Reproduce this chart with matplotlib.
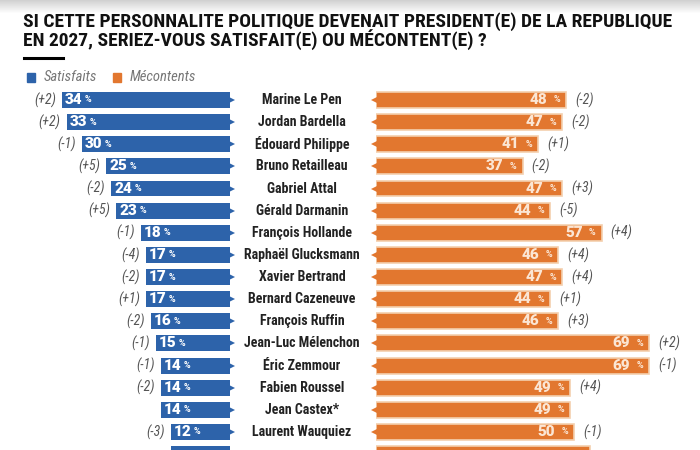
import numpy as np
import matplotlib.pyplot as plt
from matplotlib.lines import Line2D
from matplotlib.patches import Rectangle

# Données du sondage
noms = ["Marine Le Pen", "Jordan Bardella", "Édouard Philippe", "Bruno Retailleau",
        "Gabriel Attal", "Gérald Darmanin", "François Hollande", "Raphaël Glucksmann",
        "Xavier Bertrand", "Bernard Cazeneuve", "François Ruffin", "Jean-Luc Mélenchon",
        "Éric Zemmour", "Fabien Roussel", "Jean Castex*", "Laurent Wauquiez", ""]
satisfaits = [34, 33, 30, 25, 24, 23, 18, 17, 17, 17, 16, 15, 14, 14, 14, 12, 12]
evol_sat = ["(+2)", "(+2)", "(-1)", "(+5)", "(-2)", "(+5)", "(-1)", "(-4)",
            "(-2)", "(+1)", "(-2)", "(-1)", "(-1)", "(-2)", "", "(-3)", ""]
mecontents = [48, 47, 41, 37, 47, 44, 57, 46, 47, 44, 46, 69, 69, 49, 49, 50, 54]
evol_mec = ["(-2)", "(-2)", "(+1)", "(-2)", "(+3)", "(-5)", "(+4)", "(+4)",
            "(+4)", "(+1)", "(+3)", "(+2)", "(-1)", "(+4)", "", "(-1)", ""]

titre1 = "SI CETTE PERSONNALITE POLITIQUE DEVENAIT PRESIDENT(E) DE LA REPUBLIQUE"
titre2 = "EN 2027, SERIEZ-VOUS SATISFAIT(E) OU MÉCONTENT(E) ?"

# Style
bleu = "#2d63aa"
orange = "#e2772f"
gris = "#555555"
condensee = ["Roboto Condensed", "Barlow Condensed", "Archivo Narrow",
             "Asap Condensed", "Liberation Sans Narrow", "DejaVu Sans"]
chiffres = ["Roboto", "DejaVu Sans"]
plt.rcParams["font.family"] = condensee

W, H = 700, 450
y0, pas = 100, 22.13  # centre de la première ligne et pas vertical (pixels)
fig = plt.figure(figsize=(W / 100, H / 100), dpi=100)

# Bandeau gris en haut
fond = fig.add_axes([0, 0, 1, 1])
fond.axis("off")
grad = np.clip(0.82 + np.arange(H) / 13 * 0.18, 0, 1).reshape(-1, 1)
fond.imshow(grad, cmap="gray", vmin=0, vmax=1, aspect="auto", extent=(0, 1, 0, 1))
fond.set_xlim(0, 1)
fond.set_ylim(0, 1)

y = np.arange(len(noms))
ylim = ((H - y0) / pas, -y0 / pas)

# Satisfaits (à gauche)
ax_l = fig.add_axes([0, 0, 230 / W, 1])
ax_l.set_xlim(230 / 4.95, 0)
ax_l.set_ylim(*ylim)
ax_l.axis("off")
ax_l.barh(y, satisfaits, height=0.72, color=bleu)
ax_l.plot(np.zeros(len(y)), y, ">", color=bleu, ms=7, mew=0, clip_on=False)
for yi, v, d in zip(y, satisfaits, evol_sat):
    ax_l.annotate(str(v), (v, yi), xytext=(3, 0), textcoords="offset pixels",
                  ha="left", va="center", color="white", fontsize=11,
                  fontweight="heavy", family=chiffres)
    ax_l.annotate("%", (v, yi), xytext=(23, 0), textcoords="offset pixels",
                  ha="left", va="center", color="white", fontsize=6.5,
                  fontweight="bold", family=chiffres)
    ax_l.annotate(d, (v, yi), xytext=(-6, 0), textcoords="offset pixels",
                  ha="right", va="center", color=gris, fontsize=10, style="italic")

# Mécontents (à droite)
ax_r = fig.add_axes([376 / W, 0, 324 / W, 1])
ax_r.set_xlim(0, 324 / 3.96)
ax_r.set_ylim(*ylim)
ax_r.axis("off")
ax_r.barh(y, mecontents, height=0.72, color=orange, edgecolor="#f4cfae", linewidth=1.2)
ax_r.plot(np.zeros(len(y)), y, "<", color=orange, ms=7, mew=0, clip_on=False)
for yi, v, d in zip(y, mecontents, evol_mec):
    ax_r.annotate(str(v), (v, yi), xytext=(-19, 0), textcoords="offset pixels",
                  ha="right", va="center", color="#fbe6d4", fontsize=11,
                  fontweight="heavy", family=chiffres)
    ax_r.annotate("%", (v, yi), xytext=(-6, 0), textcoords="offset pixels",
                  ha="right", va="center", color="#fbe6d4", fontsize=6.5,
                  fontweight="bold", family=chiffres)
    ax_r.annotate(d, (v, yi), xytext=(9, 0), textcoords="offset pixels",
                  ha="left", va="center", color=gris, fontsize=10, style="italic")

# Noms au centre
for yi, nom in zip(y, noms):
    ax_r.text(-(376 - 302) / 3.96, yi, nom, ha="center", va="center",
              fontsize=10, fontweight="bold", color="#222222")

# Titre
fig.text(23 / W, 1 - 21.5 / H, titre1, ha="left", va="center", fontsize=14,
         fontweight="bold", color="#111111")
fig.text(23 / W, 1 - 39.5 / H, titre2, ha="left", va="center", fontsize=14,
         fontweight="bold", color="#111111")
fig.add_artist(Line2D([24 / W, 63 / W], [1 - 58 / H] * 2, color="black", lw=2.2))

# Légende
fig.add_artist(Rectangle((27 / W, 1 - 82 / H), 8 / W, 9 / H, color=bleu,
                         transform=fig.transFigure))
fig.text(44 / W, 1 - 77 / H, "Satisfaits", ha="left", va="center", fontsize=10.5,
         style="italic", color="#777777")
fig.add_artist(Rectangle((113 / W, 1 - 82 / H), 8 / W, 9 / H, color=orange,
                         transform=fig.transFigure))
fig.text(130 / W, 1 - 77 / H, "Mécontents", ha="left", va="center", fontsize=10.5,
         style="italic", color="#777777")

fig.savefig("out.png", dpi=100)
